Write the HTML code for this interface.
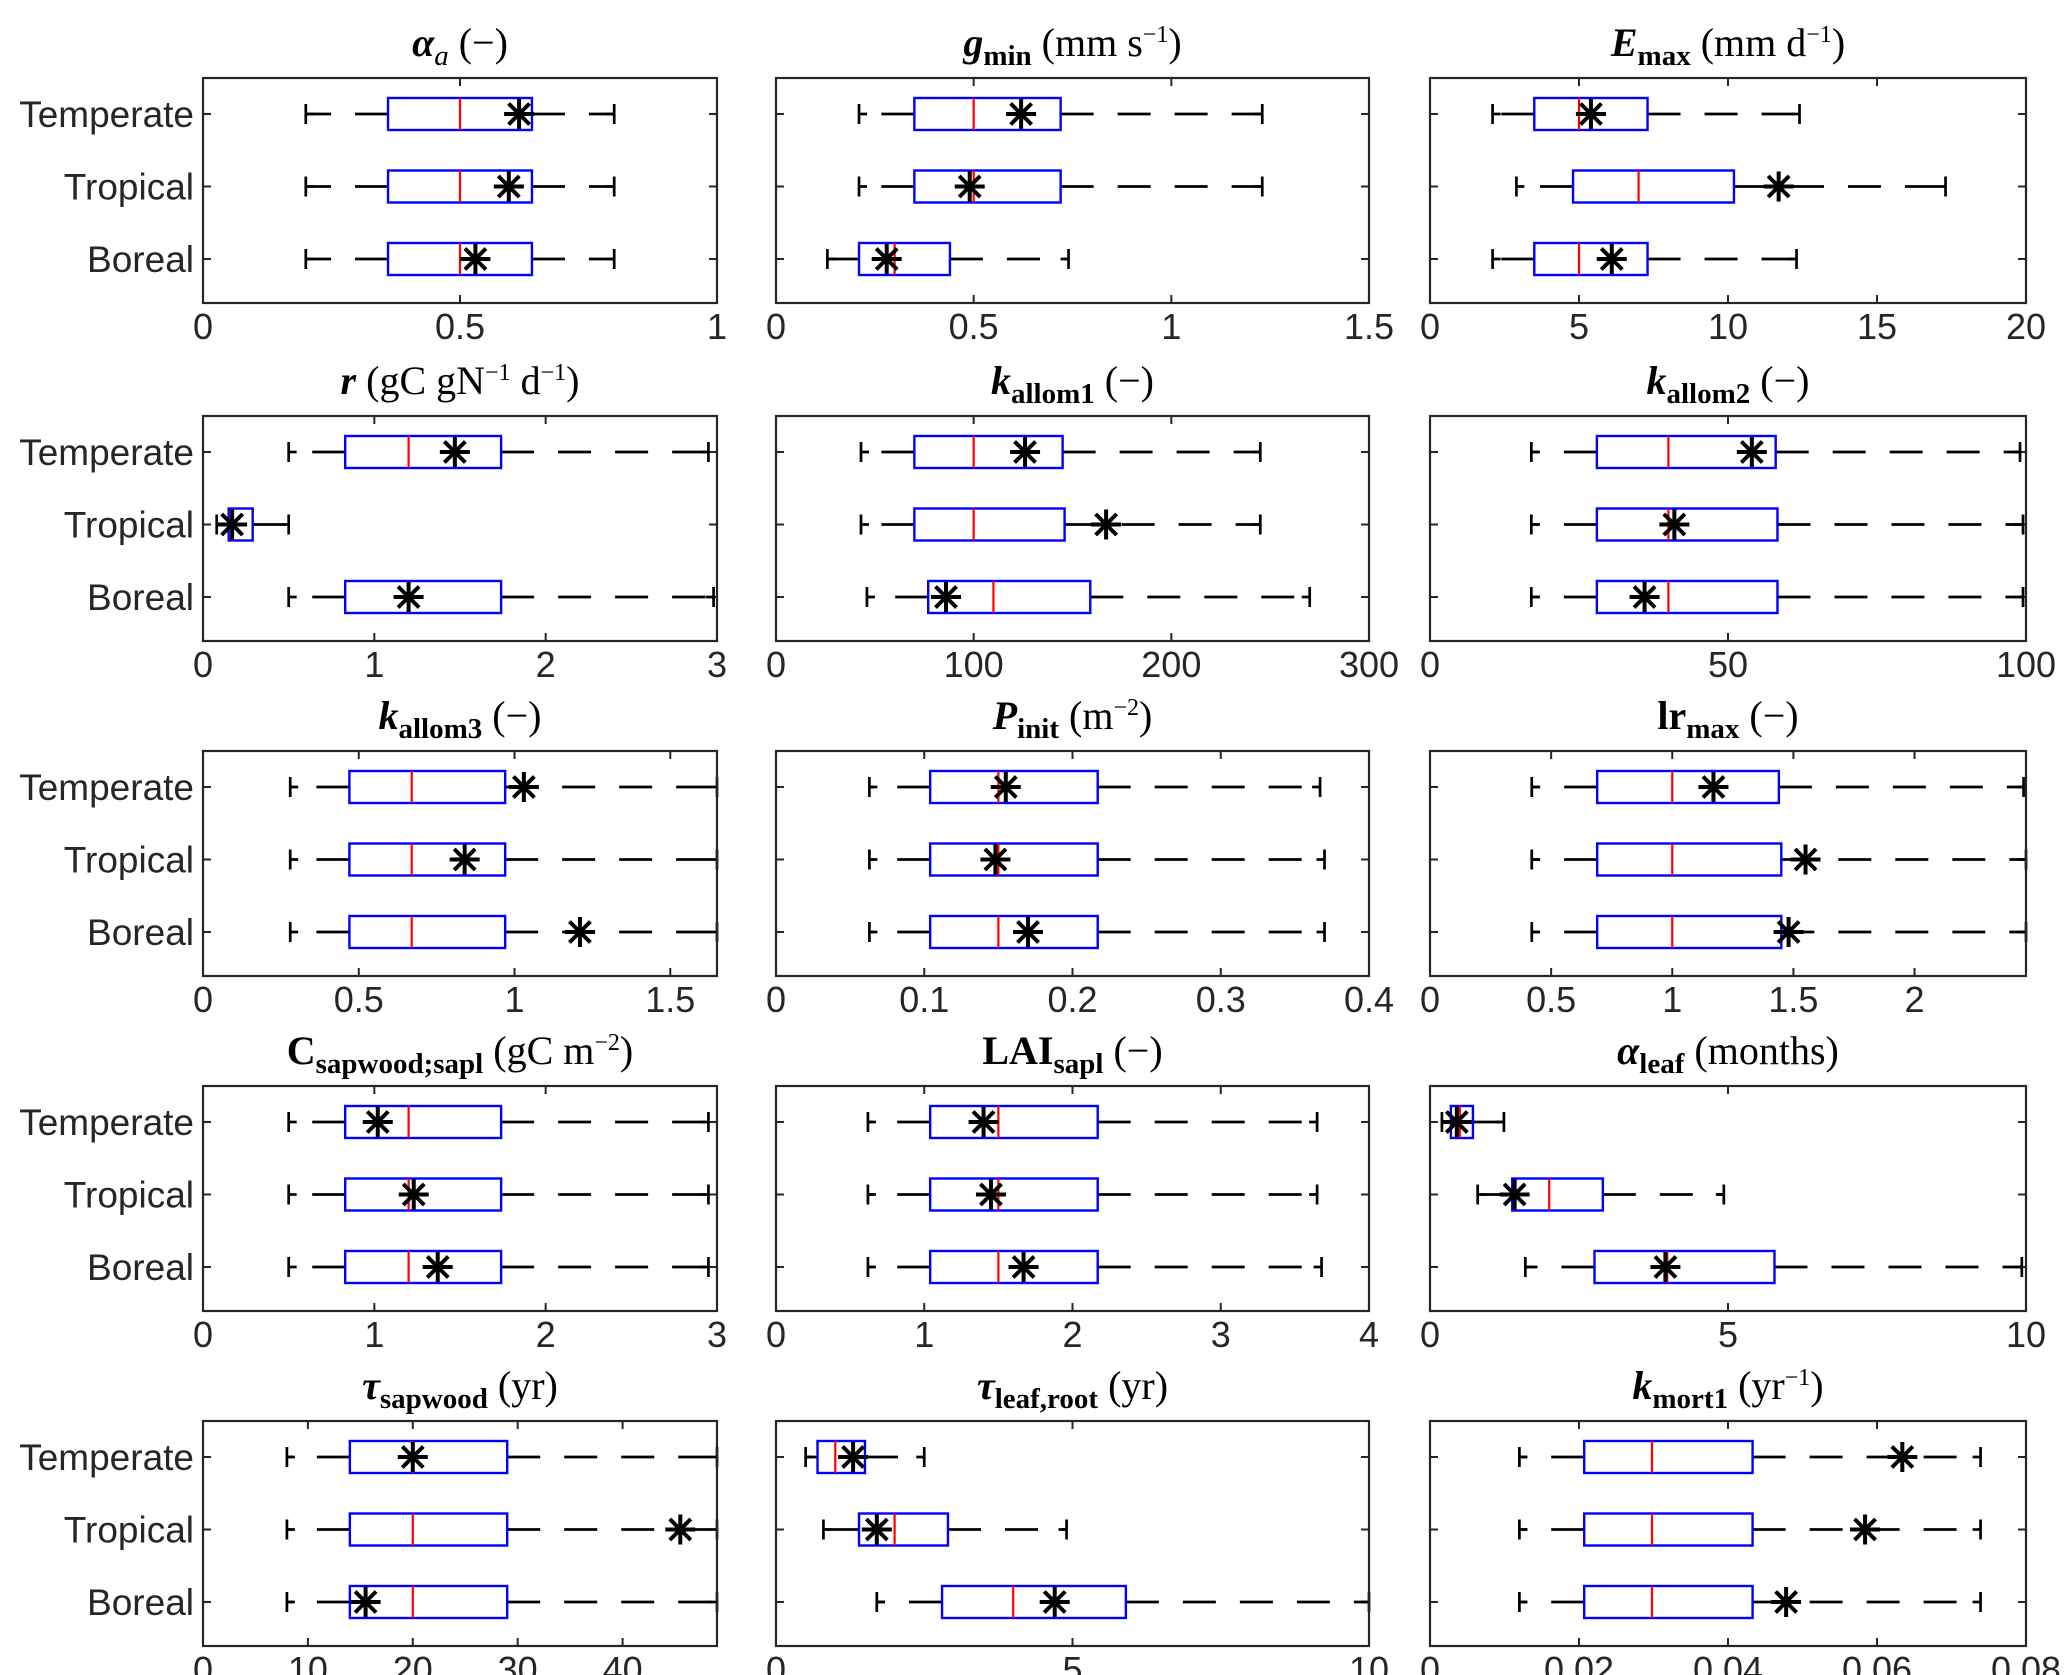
<!DOCTYPE html>
<html><head><meta charset="utf-8"><style>
html,body{margin:0;padding:0;background:#fff;}
svg{display:block;}
text{font-family:"Liberation Sans",sans-serif;}
.ttl{font-family:"Liberation Serif",serif;font-size:40px;fill:#000;}
</style></head><body>
<svg id="chart" width="2067" height="1675" viewBox="0 0 2067 1675" xmlns="http://www.w3.org/2000/svg"></svg>
<script>
const categories = ["Temperate","Tropical","Boreal"];
const xMaxes = [1,1.5,20, 3,300,100, 1.65,0.4,2.46, 3,4,10, 49,10,0.08];
const tickVals = [[0,0.5,1],[0,0.5,1,1.5],[0,5,10,15,20],
 [0,1,2,3],[0,100,200,300],[0,50,100],
 [0,0.5,1,1.5],[0,0.1,0.2,0.3,0.4],[0,0.5,1,1.5,2],
 [0,1,2,3],[0,1,2,3,4],[0,5,10],
 [0,10,20,30,40],[0,5,10],[0,0.02,0.04,0.06,0.08]];
const tickLabels = [["0","0.5","1"],["0","0.5","1","1.5"],["0","5","10","15","20"],
 ["0","1","2","3"],["0","100","200","300"],["0","50","100"],
 ["0","0.5","1","1.5"],["0","0.1","0.2","0.3","0.4"],["0","0.5","1","1.5","2"],
 ["0","1","2","3"],["0","1","2","3","4"],["0","5","10"],
 ["0","10","20","30","40"],["0","5","10"],["0","0.02","0.04","0.06","0.08"]];
// per panel: [Temperate, Tropical, Boreal]
const whiskMin = [[0.2,0.2,0.2],[0.21,0.21,0.13],[2.1,2.9,2.1],
 [0.5,0.08,0.5],[43,43,46],[17,17,17],
 [0.28,0.28,0.28],[0.063,0.063,0.063],[0.42,0.42,0.42],
 [0.5,0.5,0.5],[0.62,0.62,0.62],[0.2,0.8,1.6],
 [8,8,8],[0.5,0.8,1.7],[0.012,0.012,0.012]];
const q1 = [[0.36,0.36,0.36],[0.35,0.35,0.21],[3.5,4.8,3.5],
 [0.83,0.15,0.83],[70,70,77],[28,28,28],
 [0.47,0.47,0.47],[0.104,0.104,0.104],[0.69,0.69,0.69],
 [0.83,0.83,0.83],[1.04,1.04,1.04],[0.35,1.38,2.76],
 [14,14,14],[0.7,1.4,2.8],[0.0207,0.0207,0.0207]];
const medians = [[0.5,0.5,0.5],[0.5,0.5,0.3],[5,7,5],
 [1.2,0.17,1.2],[100,100,110],[40,40,40],
 [0.67,0.67,0.67],[0.15,0.15,0.15],[1,1,1],
 [1.2,1.2,1.2],[1.5,1.5,1.5],[0.5,2.0,3.98],
 [20,20,20],[1.0,2.0,4.0],[0.0298,0.0298,0.0298]];
const q3 = [[0.64,0.64,0.64],[0.72,0.72,0.44],[7.3,10.2,7.3],
 [1.74,0.29,1.74],[145,146,159],[58,58.3,58.3],
 [0.97,0.97,0.97],[0.217,0.217,0.217],[1.44,1.45,1.45],
 [1.74,1.74,1.74],[2.17,2.17,2.17],[0.72,2.9,5.78],
 [29,29,29],[1.5,2.9,5.9],[0.0433,0.0433,0.0433]];
const whiskMax = [[0.8,0.8,0.8],[1.23,1.23,0.74],[12.4,17.3,12.3],
 [2.95,0.5,2.98],[245,245,270],[99,99.5,99.5],
 [1.65,1.65,1.65],[0.367,0.37,0.37],[2.45,2.46,2.46],
 [2.95,2.95,2.95],[3.65,3.65,3.68],[1.24,4.93,9.93],
 [49,49,49],[2.5,4.9,10],[0.0739,0.0739,0.0739]];
const stars = [[0.615,0.595,0.53],[0.62,0.49,0.28],[5.4,11.7,6.1],
 [1.47,0.17,1.2],[126,167,86],[54,41,36],
 [1.03,0.84,1.21],[0.155,0.148,0.17],[1.17,1.55,1.48],
 [1.02,1.23,1.37],[1.4,1.45,1.67],[0.45,1.42,3.95],
 [20,45.5,15.5],[1.3,1.7,4.7],[0.0634,0.0584,0.0478]];
const SUB='font-weight="bold" font-size="29" dy="9"';
const titles = [
 '<tspan font-weight="bold" font-style="italic">α</tspan><tspan font-style="italic" font-size="29" dy="9">a</tspan><tspan dy="-9">  (−)</tspan>',
 '<tspan font-weight="bold" font-style="italic">g</tspan><tspan '+SUB+'>min</tspan><tspan dy="-9">  (mm s</tspan><tspan font-size="24" dy="-14">−1</tspan><tspan dy="14">)</tspan>',
 '<tspan font-weight="bold" font-style="italic">E</tspan><tspan '+SUB+'>max</tspan><tspan dy="-9">  (mm d</tspan><tspan font-size="24" dy="-14">−1</tspan><tspan dy="14">)</tspan>',
 '<tspan font-weight="bold" font-style="italic">r</tspan><tspan>  (gC gN</tspan><tspan font-size="24" dy="-14">−1</tspan><tspan dy="14"> d</tspan><tspan font-size="24" dy="-14">−1</tspan><tspan dy="14">)</tspan>',
 '<tspan font-weight="bold" font-style="italic">k</tspan><tspan '+SUB+'>allom1</tspan><tspan dy="-9">  (−)</tspan>',
 '<tspan font-weight="bold" font-style="italic">k</tspan><tspan '+SUB+'>allom2</tspan><tspan dy="-9">  (−)</tspan>',
 '<tspan font-weight="bold" font-style="italic">k</tspan><tspan '+SUB+'>allom3</tspan><tspan dy="-9">  (−)</tspan>',
 '<tspan font-weight="bold" font-style="italic">P</tspan><tspan '+SUB+'>init</tspan><tspan dy="-9">  (m</tspan><tspan font-size="24" dy="-14">−2</tspan><tspan dy="14">)</tspan>',
 '<tspan font-weight="bold">lr</tspan><tspan '+SUB+'>max</tspan><tspan dy="-9">  (−)</tspan>',
 '<tspan font-weight="bold">C</tspan><tspan '+SUB+'>sapwood;sapl</tspan><tspan dy="-9">  (gC m</tspan><tspan font-size="24" dy="-14">−2</tspan><tspan dy="14">)</tspan>',
 '<tspan font-weight="bold">LAI</tspan><tspan '+SUB+'>sapl</tspan><tspan dy="-9">  (−)</tspan>',
 '<tspan font-weight="bold" font-style="italic">α</tspan><tspan '+SUB+'>leaf</tspan><tspan dy="-9">  (months)</tspan>',
 '<tspan font-weight="bold" font-style="italic">τ</tspan><tspan '+SUB+'>sapwood</tspan><tspan dy="-9">  (yr)</tspan>',
 '<tspan font-weight="bold" font-style="italic">τ</tspan><tspan '+SUB+'>leaf,root</tspan><tspan dy="-9">  (yr)</tspan>',
 '<tspan font-weight="bold" font-style="italic">k</tspan><tspan '+SUB+'>mort1</tspan><tspan dy="-9">  (yr</tspan><tspan font-size="24" dy="-14">−1</tspan><tspan dy="14">)</tspan>'
];

const NS="http://www.w3.org/2000/svg";
const svg=document.getElementById('chart');
const colL=[203,776,1430], colR=[717,1369,2026];
const rowT=[78,416,751,1086,1421], PH=225;
function mk(tag,attrs,parent){const e=document.createElementNS(NS,tag);for(const k in attrs)e.setAttribute(k,attrs[k]);(parent||svg).appendChild(e);return e;}

for(let p=0;p<15;p++){
  const c=p%3, r=Math.floor(p/3);
  const L=colL[c], R=colR[c], T=rowT[r], B=T+PH;
  const xs=v=>L+(v/xMaxes[p])*(R-L);
  const ys=i=>T+36+i*72.5;
  const g=mk('g',{});
  
  
  const t=mk('text',{x:(L+R)/2,y:T-22,'text-anchor':'middle','class':'ttl'},g);
  t.innerHTML=titles[p];
  
  
  tickVals[p].forEach((v,k)=>{
    const x=xs(v);
    const tk=mk('path',{d:`M${x} ${B}V${B-8}M${x} ${T}V${T+8}`,stroke:'#262626','stroke-width':2},g);
    
    
    const lb=mk('text',{x:x,y:B+36,'text-anchor':'middle','font-size':36,fill:'#262626'},g);
    lb.textContent=tickLabels[p][k];
    
    
  });
  categories.forEach((cat,i)=>{
    const y=ys(i);
    const yt=mk('path',{d:`M${L} ${y}H${L+8}M${R} ${y}H${R-8}`,stroke:'#262626','stroke-width':2},g);
    
    
    if(c===0){
      const lb=mk('text',{x:L-9,y:y+13,'text-anchor':'end','font-size':37,fill:'#262626'},g);
      lb.textContent=cat;
      
      
    }
    const bg=mk('g',{},g);
    
    
    const x1=xs(whiskMin[p][i]),xa=xs(q1[p][i]),xm=xs(medians[p][i]),xb=xs(q3[p][i]),x2=Math.min(xs(whiskMax[p][i]),R);
    mk('line',{x1:xa,y1:y,x2:x1,y2:y,stroke:'#000','stroke-width':2.7,'stroke-dasharray':'33,24'},bg);
    mk('line',{x1:xb,y1:y,x2:x2,y2:y,stroke:'#000','stroke-width':2.7,'stroke-dasharray':'33,24'},bg);
    mk('line',{x1:x1,y1:y-10,x2:x1,y2:y+10,stroke:'#000','stroke-width':2.7},bg);
    mk('line',{x1:x2,y1:y-10,x2:x2,y2:y+10,stroke:'#000','stroke-width':2.7},bg);
    mk('line',{x1:x1,y1:y,x2:x1+8,y2:y,stroke:'#000','stroke-width':2.7},bg);
    mk('line',{x1:x2,y1:y,x2:x2-8,y2:y,stroke:'#000','stroke-width':2.7},bg);
    mk('rect',{x:xa,y:y-16,width:xb-xa,height:32,fill:'#fff',stroke:'#0000ff','stroke-width':2.4},bg);
    mk('line',{x1:xm,y1:y-16,x2:xm,y2:y+16,stroke:'#ff0000','stroke-width':2.2},bg);
    const xs_=xs(stars[p][i]);const s=15;
    const st=mk('path',{d:`M${xs_} ${y-s}V${y+s}M${xs_-s} ${y}H${xs_+s}M${xs_-s*0.7} ${y-s*0.7}L${xs_+s*0.7} ${y+s*0.7}M${xs_-s*0.7} ${y+s*0.7}L${xs_+s*0.7} ${y-s*0.7}`,stroke:'#000','stroke-width':4},bg);
    
    
  });
  const fr=mk('rect',{x:L,y:T,width:R-L,height:PH,fill:'none',stroke:'#262626','stroke-width':2.2},g);
  
  
}
</script>
</body></html>
